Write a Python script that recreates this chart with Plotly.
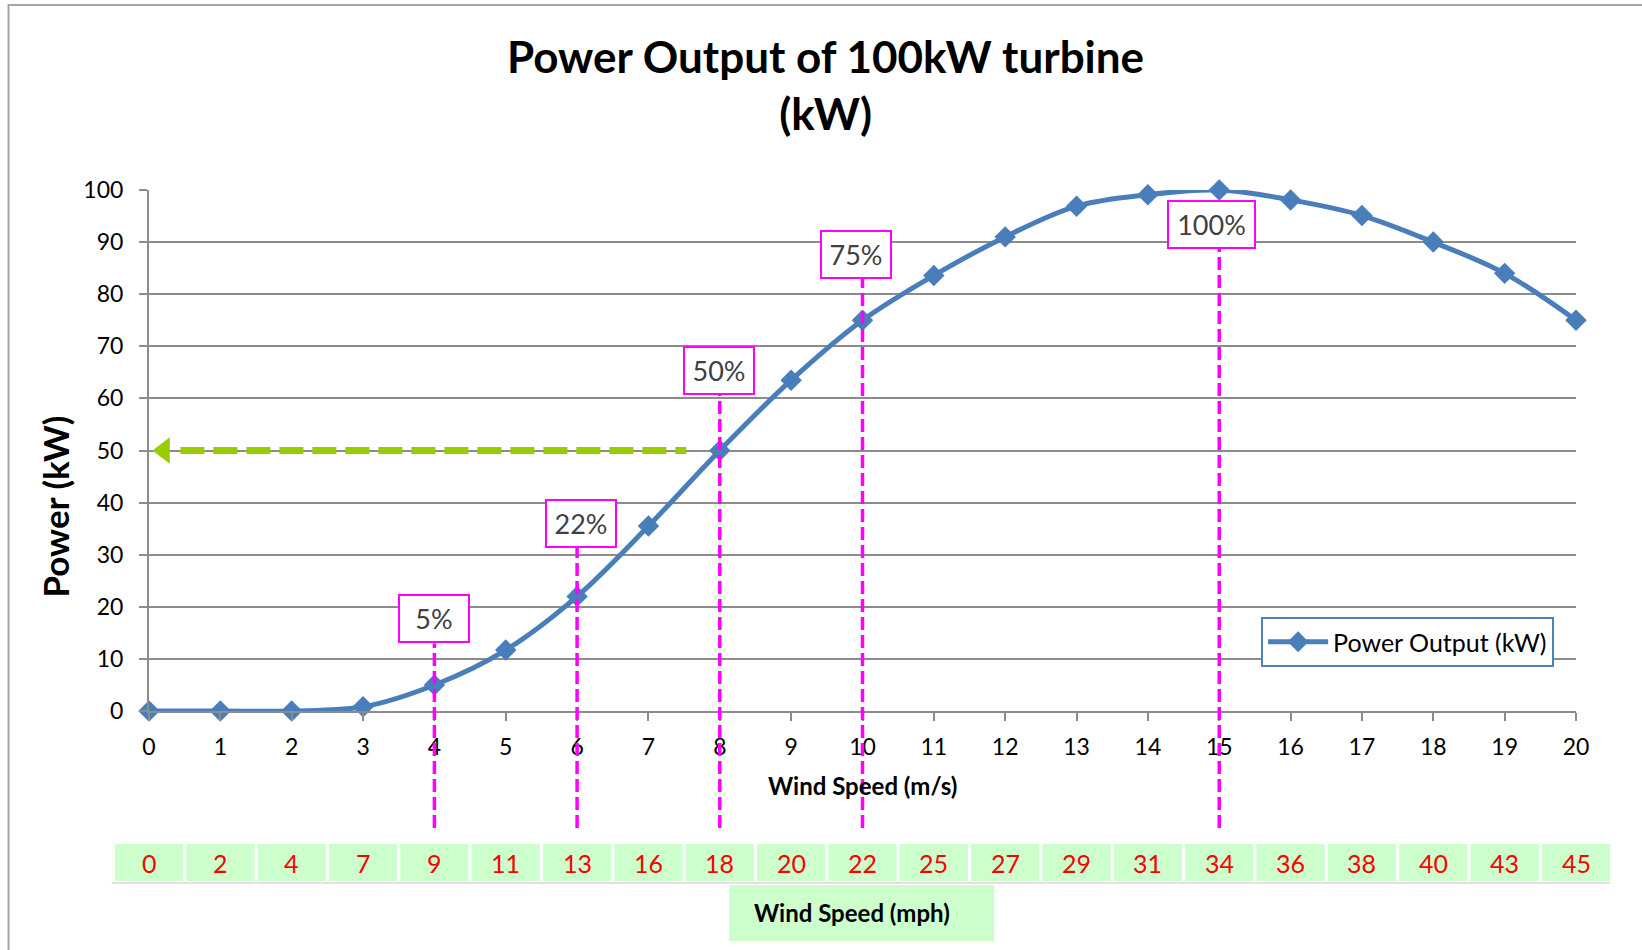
import plotly.graph_objects as go

# ---- data -------------------------------------------------------------
wind_ms = [0, 1, 2, 3, 4, 5, 6, 7, 8, 9, 10, 11, 12, 13, 14, 15, 16, 17, 18, 19, 20]
power_kw = [0, 0, 0, 0.8, 5, 11.7, 22, 35.5, 50, 63.5, 75, 83.6, 91, 96.9, 99.1,
            100, 98.1, 95.1, 90, 84, 75]
wind_mph = [0, 2, 4, 7, 9, 11, 13, 16, 18, 20, 22, 25, 27, 29, 31, 34, 36, 38, 40, 43, 45]
rated_kw = 100
marked_speeds = [4, 6, 8, 10, 15]
guide_power = 50

# ---- page geometry ----------------------------------------------------
W, H = 1642, 950
ML, MR, MT, MB = 148.5, 66, 190, 239
PLOT_W = W - ML - MR
PLOT_H = H - MT - MB
X_MIN, X_MAX = 0, 20
Y_MIN, Y_MAX = 0, 100


def px_x(px):
    """absolute pixel column -> paper x"""
    return (px - ML) / PLOT_W


def px_y(py):
    """absolute pixel row -> paper y"""
    return (H - MB - py) / PLOT_H


def xp(v):
    """data x -> paper x"""
    return (v - X_MIN) / (X_MAX - X_MIN)


def yp(v):
    """data y -> paper y"""
    return (v - Y_MIN) / (Y_MAX - Y_MIN)


FONT = "Lato"
BLUE = "#4A7EBB"
MAGENTA = "#FF00FF"
LIME = "#99CC00"
GRID = "#8C8C8C"
CELL = "#CCFFCC"

fig = go.Figure()

fig.add_trace(go.Scatter(
    x=wind_ms, y=power_kw, mode="lines+markers", name="Power Output (kW)",
    line=dict(color=BLUE, width=5, shape="spline", smoothing=1),
    marker=dict(symbol="diamond", size=16.5, color=BLUE),
    cliponaxis=False,
))

# arrow head of the 50 kW guide
fig.add_trace(go.Scatter(
    x=[0.21], y=[guide_power], mode="markers", showlegend=False, hoverinfo="skip",
    marker=dict(symbol="triangle-left", size=23, color=LIME),
    cliponaxis=False,
))

shapes = []
annotations = []

# outer chart frame
shapes.append(dict(type="rect", xref="paper", yref="paper",
                   x0=px_x(8), x1=px_x(1700), y0=px_y(1000), y1=px_y(5),
                   line=dict(color="#A6A6A6", width=2), layer="below"))

# dashed guide at 50 kW
shapes.append(dict(type="line", xref="x", yref="y", x0=0.44, x1=7.53,
                   y0=guide_power, y1=guide_power,
                   line=dict(color=LIME, width=7, dash="24px,9px"), layer="above"))

# percentage call-outs with dropped guide lines
label_shift = {4: (0, 66), 6: (4, 73), 8: (-1, 80), 10: (-7, 66), 15: (-8, -34)}
box_h = 45
for ws in marked_speeds:
    p = power_kw[wind_ms.index(ws)]
    pct = f"{p / rated_kw * 100:.0f}%"
    dx, dy = label_shift[ws]
    bw = 85 if len(pct) > 3 else 68
    annotations.append(dict(
        x=ws, y=p, xref="x", yref="y", text=pct, showarrow=False,
        xshift=dx, yshift=dy, width=bw, height=box_h, align="center", valign="middle",
        bordercolor=MAGENTA, borderwidth=2, borderpad=0, bgcolor="white",
        font=dict(family=FONT, size=27, color="#404040"),
    ))
    top = yp(p) + (dy - box_h / 2 - 2) / PLOT_H
    shapes.append(dict(type="line", xref="x", yref="paper", x0=ws, x1=ws,
                       y0=px_y(828), y1=top,
                       line=dict(color=MAGENTA, width=3.5, dash="13px,5px"),
                       layer="above"))

# mph conversion row
gap = 1.5 / PLOT_W
cell_top, cell_bot = px_y(844), px_y(881)
for ws, mph in zip(wind_ms, wind_mph):
    shapes.append(dict(type="rect", xref="paper", yref="paper",
                       x0=xp(ws - 0.5) + gap, x1=xp(ws + 0.5) - gap,
                       y0=cell_bot, y1=cell_top,
                       fillcolor=CELL, line=dict(width=0), layer="below"))
    annotations.append(dict(x=xp(ws), y=(cell_top + cell_bot) / 2,
                            xref="paper", yref="paper", text=str(mph),
                            showarrow=False, xanchor="center", yanchor="middle",
                            font=dict(family=FONT, size=25, color="#FF0000")))
shapes.append(dict(type="line", xref="paper", yref="paper",
                   x0=px_x(111), x1=px_x(1610), y0=px_y(883), y1=px_y(883),
                   line=dict(color="#D9D9D9", width=1.5)))

# mph caption
shapes.append(dict(type="rect", xref="paper", yref="paper",
                   x0=px_x(729), x1=px_x(994), y0=px_y(941), y1=px_y(885),
                   fillcolor=CELL, line=dict(width=0), layer="below"))
annotations.append(dict(x=px_x(852), y=px_y(912), xref="paper", yref="paper",
                        text="<b>Wind Speed (mph)</b>", showarrow=False,
                        xanchor="center", yanchor="middle",
                        font=dict(family=FONT, size=24, color="black")))

# titles
annotations.append(dict(x=px_x(825), y=px_y(85), xref="paper", yref="paper",
                        text="<b>Power Output of 100kW turbine</b><br><b>(kW)</b>",
                        showarrow=False, xanchor="center", yanchor="middle",
                        font=dict(family=FONT, size=44, color="black")))
annotations.append(dict(x=px_x(862), y=px_y(785), xref="paper", yref="paper",
                        text="<b>Wind Speed (m/s)</b>", showarrow=False,
                        xanchor="center", yanchor="middle",
                        font=dict(family=FONT, size=24, color="black")))
annotations.append(dict(x=px_x(54), y=px_y(507), xref="paper", yref="paper",
                        text="<b>Power (kW)</b>", showarrow=False, textangle=-90,
                        xanchor="center", yanchor="middle",
                        font=dict(family=FONT, size=35, color="black")))

fig.update_layout(
    width=W, height=H,
    margin=dict(l=ML, r=MR, t=MT, b=MB, pad=0),
    paper_bgcolor="white", plot_bgcolor="white",
    font=dict(family=FONT, size=23, color="black"),
    showlegend=True,
    legend=dict(x=px_x(1261), y=px_y(617), xanchor="left", yanchor="top",
                bordercolor="#4F81BD", borderwidth=2, bgcolor="white",
                font=dict(family=FONT, size=25, color="black"),
                itemwidth=60),
    shapes=shapes,
    annotations=annotations,
)

fig.update_xaxes(
    range=[X_MIN, X_MAX], tickmode="linear", tick0=0, dtick=1,
    showgrid=False, zeroline=False,
    showline=True, linecolor=GRID, linewidth=2,
    ticks="outside", ticklen=8, tickwidth=2, tickcolor=GRID,
    ticklabelstandoff=6,
    tickfont=dict(family=FONT, size=23, color="black"),
)
fig.update_yaxes(
    range=[Y_MIN, Y_MAX], tickmode="linear", tick0=0, dtick=10,
    showgrid=True, gridcolor=GRID, gridwidth=2, zeroline=False,
    showline=True, linecolor=GRID, linewidth=2,
    ticks="outside", ticklen=8, tickwidth=2, tickcolor=GRID,
    ticklabelstandoff=11,
    tickfont=dict(family=FONT, size=23, color="black"),
)

fig.write_html("out.html")
